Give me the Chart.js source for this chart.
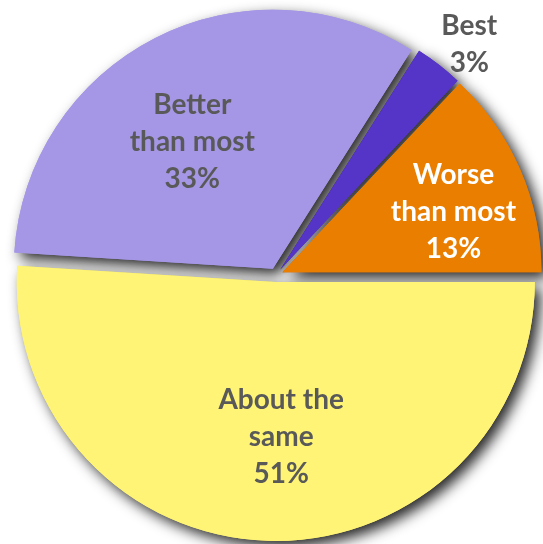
<!DOCTYPE html>
<html>
<head>
<meta charset="utf-8">
<script src="https://cdn.jsdelivr.net/npm/chart.js@4.4.1/dist/chart.umd.min.js"></script>
<style>
  html, body { margin: 0; padding: 0; background: #ffffff; }
  #wrap { width: 543px; height: 544px; }
</style>
</head>
<body>
<div id="wrap"><canvas id="c" width="543" height="544"></canvas></div>
<script>
const categories = ["Best", "Worse than most", "About the same", "Better than most"];
const labelLines = [["Best"], ["Worse", "than most"], ["About the", "same"], ["Better", "than most"]];
const percentValues = [3, 13, 51, 33];

const sliceColors = ["#5534C8", "#E97E00", "#FFF475", "#A697E6"];
const labelColors = ["#595959", "#FFFFFF", "#595959", "#595959"];
// label placement: radial fraction of radius, angular nudge (degrees)
const labelRadial = [1.135, 0.70, 0.60, 0.58];
const labelNudge = [2.2, 4, -3.8, -5.4];
const EXPLODE = 7;

function patchArcs(meta) {
  meta.data.forEach(arc => {
    if (arc._exploded) return;
    const orig = arc.draw;
    arc.draw = function (c, area) {
      const mid = (this.startAngle + this.endAngle) / 2;
      c.save();
      c.translate(Math.cos(mid) * EXPLODE, Math.sin(mid) * EXPLODE);
      orig.call(this, c, area);
      c.restore();
    };
    arc._exploded = true;
  });
}

const shadowPlugin = {
  id: 'sliceShadow',
  beforeDatasetsDraw(chart) {
    const ctx = chart.ctx;
    const meta = chart.getDatasetMeta(0);
    patchArcs(meta);
    ctx.save();
    ctx.shadowColor = 'rgba(0,0,0,0.85)';
    ctx.shadowBlur = 14;
    ctx.shadowOffsetX = 6;
    ctx.shadowOffsetY = 6;
    meta.data.forEach(a => a.draw(ctx, chart.chartArea));
    ctx.restore();
  }
};

const labelPlugin = {
  id: 'sliceLabels',
  afterDraw(chart) {
    const ctx = chart.ctx;
    const meta = chart.getDatasetMeta(0);
    const ds = chart.data.datasets[0];
    ctx.save();
    ctx.font = 'bold 28px Lato, "Open Sans", sans-serif';
    ctx.textAlign = 'center';
    ctx.textBaseline = 'middle';
    meta.data.forEach((arc, i) => {
      const p = arc.getProps(['x', 'y', 'startAngle', 'endAngle', 'outerRadius'], true);
      const mid = (p.startAngle + p.endAngle) / 2;
      const a = mid + labelNudge[i] * Math.PI / 180;
      const ox = p.x + Math.cos(mid) * EXPLODE;
      const oy = p.y + Math.sin(mid) * EXPLODE;
      const d = p.outerRadius * labelRadial[i];
      const cx = ox + Math.cos(a) * d;
      const cy = oy + Math.sin(a) * d;
      const lines = labelLines[i].concat([ds.data[i] + '%']);
      const lh = 37;
      const y0 = cy - (lines.length - 1) * lh / 2;
      ctx.fillStyle = labelColors[i];
      lines.forEach((t, k) => ctx.fillText(t, cx, y0 + k * lh));
    });
    ctx.restore();
  }
};

new Chart(document.getElementById('c'), {
  type: 'pie',
  data: {
    labels: categories,
    datasets: [{
      data: percentValues,
      backgroundColor: sliceColors,
      borderWidth: 0,
      offset: 0,
      hoverOffset: 0
    }]
  },
  options: {
    responsive: false,
    animation: false,
    rotation: 32.4,
    radius: 259,
    layout: { padding: { left: 9, right: 0, top: 6, bottom: 0 } },
    plugins: {
      legend: { display: false },
      tooltip: { enabled: false }
    },
    events: []
  },
  plugins: [shadowPlugin, labelPlugin]
});
</script>
</body>
</html>
